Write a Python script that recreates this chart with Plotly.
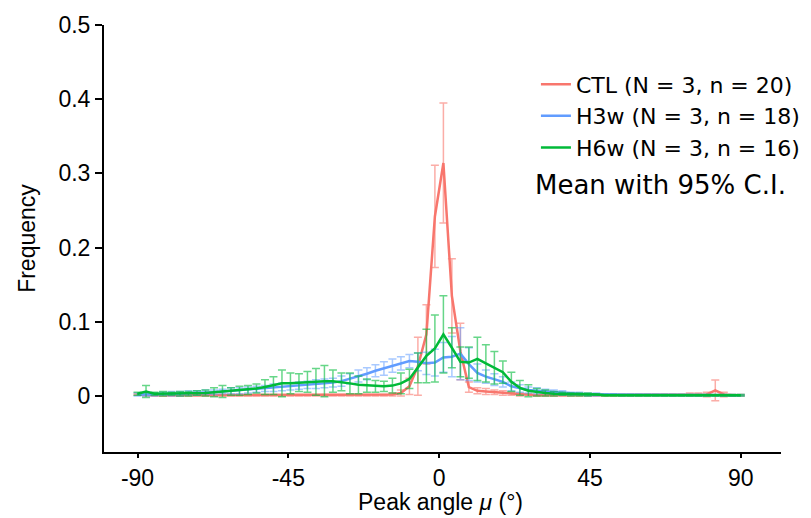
import plotly.graph_objects as go

angles = [-90.00, -87.46, -84.93, -82.39, -79.86, -77.32, -74.79, -72.25, -69.72, -67.18,
          -64.65, -62.11, -59.58, -57.04, -54.51, -51.97, -49.44, -46.90, -44.37, -41.83,
          -39.30, -36.76, -34.23, -31.69, -29.15, -26.62, -24.08, -21.55, -19.01, -16.48,
          -13.94, -11.41, -8.87, -6.34, -3.80, -1.27, 1.27, 3.80, 6.34, 8.87,
          11.41, 13.94, 16.48, 19.01, 21.55, 24.08, 26.62, 29.15, 31.69, 34.23,
          36.76, 39.30, 41.83, 44.37, 46.90, 49.44, 51.97, 54.51, 57.04, 59.58,
          62.11, 64.65, 67.18, 69.72, 72.25, 74.79, 77.32, 79.86, 82.39, 84.93,
          87.46, 90.00]

ctl_mean = [0.002, 0.001, 0.001, 0.001, 0.001, 0.001, 0.001, 0.001, 0.001, 0.001,
            0.001, 0.001, 0.001, 0.001, 0.001, 0.001, 0.001, 0.001, 0.001, 0.001,
            0.001, 0.001, 0.001, 0.001, 0.001, 0.001, 0.001, 0.001, 0.001, 0.001,
            0.002, 0.004, 0.013, 0.040, 0.083, 0.242, 0.314, 0.135, 0.060, 0.012,
            0.007, 0.006, 0.005, 0.004, 0.003, 0.002, 0.002, 0.001, 0.001, 0.001,
            0.001, 0.001, 0.001, 0.001, 0.001, 0.001, 0.001, 0.001, 0.001, 0.001,
            0.001, 0.001, 0.001, 0.001, 0.001, 0.002, 0.002, 0.002, 0.0075, 0.002,
            0.001, 0.001]
ctl_ci = [0.001, 0.001, 0.001, 0.001, 0.001, 0.001, 0.001, 0.001, 0.001, 0.001,
          0.001, 0.001, 0.001, 0.001, 0.001, 0.001, 0.001, 0.001, 0.001, 0.001,
          0.001, 0.001, 0.001, 0.001, 0.001, 0.001, 0.001, 0.001, 0.001, 0.001,
          0.002, 0.004, 0.011, 0.039, 0.040, 0.069, 0.081, 0.050, 0.038, 0.007,
          0.004, 0.004, 0.003, 0.003, 0.002, 0.002, 0.001, 0.001, 0.001, 0.001,
          0.001, 0.001, 0.001, 0.001, 0.001, 0.001, 0.001, 0.001, 0.001, 0.001,
          0.001, 0.001, 0.001, 0.001, 0.001, 0.002, 0.002, 0.003, 0.014, 0.003,
          0.001, 0.001]

h3w_mean = [0.002, 0.002, 0.002, 0.003, 0.003, 0.003, 0.004, 0.004, 0.005, 0.005,
            0.006, 0.007, 0.007, 0.008, 0.009, 0.010, 0.011, 0.012, 0.013, 0.014,
            0.015, 0.016, 0.017, 0.018, 0.020, 0.023, 0.027, 0.030, 0.034, 0.037,
            0.041, 0.044, 0.047, 0.046, 0.044, 0.045, 0.052, 0.053, 0.057, 0.043,
            0.031, 0.026, 0.022, 0.019, 0.013, 0.010, 0.008, 0.007, 0.006, 0.005,
            0.004, 0.003, 0.003, 0.002, 0.002, 0.002, 0.002, 0.001, 0.001, 0.001,
            0.001, 0.001, 0.001, 0.001, 0.001, 0.001, 0.001, 0.001, 0.001, 0.001,
            0.001, 0.001]
h3w_ci = [0.002, 0.002, 0.002, 0.002, 0.003, 0.003, 0.003, 0.003, 0.003, 0.003,
          0.003, 0.004, 0.004, 0.004, 0.004, 0.004, 0.005, 0.005, 0.005, 0.005,
          0.005, 0.006, 0.006, 0.006, 0.007, 0.007, 0.008, 0.008, 0.008, 0.009,
          0.009, 0.009, 0.009, 0.012, 0.015, 0.018, 0.020, 0.027, 0.035, 0.022,
          0.012, 0.009, 0.008, 0.007, 0.006, 0.005, 0.004, 0.004, 0.003, 0.003,
          0.003, 0.002, 0.002, 0.002, 0.002, 0.001, 0.001, 0.001, 0.001, 0.001,
          0.001, 0.001, 0.001, 0.001, 0.001, 0.001, 0.001, 0.001, 0.001, 0.001,
          0.001, 0.001]

h6w_mean = [0.003, 0.006, 0.003, 0.003, 0.003, 0.003, 0.003, 0.004, 0.004, 0.005,
            0.006, 0.006, 0.007, 0.008, 0.010, 0.012, 0.014, 0.017, 0.017, 0.018,
            0.019, 0.019, 0.020, 0.020, 0.019, 0.017, 0.015, 0.014, 0.013, 0.013,
            0.014, 0.017, 0.023, 0.038, 0.054, 0.064, 0.083, 0.065, 0.046, 0.045,
            0.050, 0.044, 0.038, 0.032, 0.019, 0.011, 0.007, 0.005, 0.004, 0.003,
            0.003, 0.002, 0.002, 0.002, 0.002, 0.001, 0.001, 0.001, 0.001, 0.001,
            0.001, 0.001, 0.001, 0.001, 0.001, 0.001, 0.001, 0.001, 0.001, 0.001,
            0.001, 0.001]
h6w_ci = [0.002, 0.008, 0.002, 0.003, 0.002, 0.003, 0.003, 0.003, 0.004, 0.006,
          0.008, 0.005, 0.006, 0.006, 0.006, 0.010, 0.012, 0.018, 0.014, 0.012,
          0.014, 0.018, 0.021, 0.015, 0.012, 0.014, 0.012, 0.009, 0.008, 0.007,
          0.010, 0.014, 0.013, 0.020, 0.036, 0.045, 0.052, 0.027, 0.020, 0.021,
          0.029, 0.025, 0.022, 0.015, 0.013, 0.010, 0.008, 0.005, 0.004, 0.003,
          0.002, 0.002, 0.002, 0.002, 0.001, 0.001, 0.001, 0.001, 0.001, 0.001,
          0.001, 0.001, 0.001, 0.001, 0.001, 0.001, 0.001, 0.001, 0.001, 0.001,
          0.001, 0.001]

series_names = ["CTL (N = 3, n = 20)", "H3w (N = 3, n = 18)", "H6w (N = 3, n = 16)"]
series_means = [ctl_mean, h3w_mean, h6w_mean]
series_cis = [ctl_ci, h3w_ci, h6w_ci]
line_colors = ["#F8766D", "#619CFF", "#00BA38"]
err_colors = ["rgba(248,118,109,0.6)", "rgba(97,156,255,0.55)", "rgba(0,186,56,0.6)"]

x_ticks = [-90, -45, 0, 45, 90]
y_ticks = [0, 0.1, 0.2, 0.3, 0.4, 0.5]

fig = go.Figure()
for name, m, ci, lc, ec in zip(series_names, series_means, series_cis, line_colors, err_colors):
    fig.add_trace(go.Scatter(
        x=angles, y=m, mode="lines", name=name,
        line=dict(color=lc, width=2.5),
        error_y=dict(type="data", array=ci, visible=True, color=ec, thickness=1.5, width=4),
    ))

tick_font = dict(family="Liberation Sans, Arial, sans-serif", size=23, color="black")

fig.update_layout(
    width=811, height=518,
    margin=dict(l=104, r=30, t=25, b=66, autoexpand=False),
    paper_bgcolor="white", plot_bgcolor="white",
    showlegend=True,
    legend=dict(x=0.638, y=0.91, xanchor="left", yanchor="top",
                font=dict(family="DejaVu Sans, Verdana, sans-serif", size=22, color="black"),
                bgcolor="rgba(0,0,0,0)", itemwidth=30, tracegroupgap=0),
    annotations=[
        dict(text="Mean with 95% C.I.", x=0.634, y=0.625, xref="paper", yref="paper",
             xanchor="left", yanchor="middle", showarrow=False,
             font=dict(family="DejaVu Sans, Verdana, sans-serif", size=26, color="black")),
        dict(text="Peak angle <i>μ</i> (°)", x=0.497, y=-0.118, xref="paper", yref="paper",
             xanchor="center", yanchor="middle", showarrow=False, font=tick_font),
    ],
)
fig.update_xaxes(range=[-100, 102], tickvals=x_ticks, ticktext=[str(v) for v in x_ticks],
                 showline=True, linecolor="black", linewidth=2, ticks="outside", ticklen=4,
                 tickwidth=1.5, tickcolor="black", showgrid=False, zeroline=False,
                 tickfont=tick_font)
fig.update_yaxes(range=[-0.0755, 0.5], tickvals=y_ticks, ticktext=["0", "0.1", "0.2", "0.3", "0.4", "0.5"],
                 showline=True, linecolor="black", linewidth=2, ticks="outside", ticklen=7,
                 tickwidth=1.5, tickcolor="black", showgrid=False, zeroline=False,
                 tickfont=tick_font,
                 title=dict(text="Frequency", font=tick_font, standoff=16))

fig.write_html("out.html")
